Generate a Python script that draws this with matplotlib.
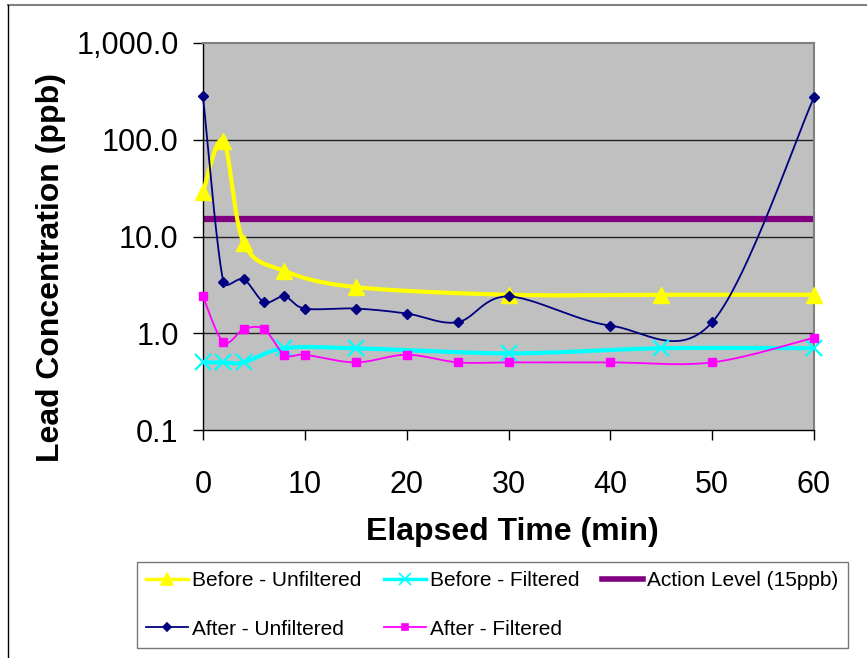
import numpy as np
import matplotlib
matplotlib.use("Agg")
import matplotlib.pyplot as plt
from matplotlib.lines import Line2D
from matplotlib.ticker import FixedLocator, FuncFormatter, NullLocator

# data (minutes, ppb)
before_minutes = [0, 2, 4, 8, 15, 30, 45, 60]
before_unfiltered = [29, 98, 8.6, 4.4, 3.0, 2.5, 2.5, 2.5]
before_filtered = [0.5, 0.5, 0.5, 0.7, 0.7, 0.62, 0.7, 0.7]

after_minutes = [0, 2, 4, 6, 8, 10, 15, 20, 25, 30, 40, 50, 60]
after_unfiltered = [280, 3.4, 3.6, 2.1, 2.4, 1.8, 1.8, 1.6, 1.3, 2.4, 1.2, 1.3, 275]
after_filtered = [2.4, 0.81, 1.1, 1.1, 0.6, 0.6, 0.5, 0.6, 0.5, 0.5, 0.5, 0.5, 0.9]

action_minutes = [0, 60]
action_level = [15, 15]

y_ticks = [0.1, 1, 10, 100, 1000]
x_ticks = [0, 10, 20, 30, 40, 50, 60]

FONT = "Liberation Sans"


def smooth(x, y, sx=10.18, sy=96.7, n=30):
    """Excel-like smoothed line: bezier through the points in screen-ish (x, log y) space."""
    px = np.asarray(x, float) * sx
    py = np.log10(np.asarray(y, float)) * sy
    pts = np.column_stack([px, py])
    ext = np.vstack([pts[0], pts, pts[-1]])
    t = np.linspace(0, 1, n)[:, None]
    out = []
    for i in range(1, len(ext) - 2):
        p0, p1, p2, p3 = ext[i - 1], ext[i], ext[i + 1], ext[i + 2]
        seg_len = np.linalg.norm(p2 - p1)
        # tangents, with the handle length capped at half the segment
        t1 = (p2 - p0) / 6.0
        t2 = (p3 - p1) / 6.0
        for tv in (t1, t2):
            n_t = np.linalg.norm(tv)
            if n_t > seg_len / 2 and n_t > 0:
                tv *= (seg_len / 2) / n_t
        c1 = p1 + t1
        c2 = p2 - t2
        seg = ((1 - t) ** 3) * p1 + 3 * ((1 - t) ** 2) * t * c1 + 3 * (1 - t) * t ** 2 * c2 + t ** 3 * p2
        out.append(seg if i == 1 else seg[1:])
    out = np.vstack(out)
    return out[:, 0] / sx, 10 ** (out[:, 1] / sy)


def main():
    plt.rcParams["font.family"] = [FONT, "DejaVu Sans"]
    fig = plt.figure(figsize=(8.67, 6.58), dpi=100)
    W, H = 867, 658

    # outer chart frame (only top and left edges visible)
    fig.add_artist(Line2D([8 / W, 1], [1 - 5 / H, 1 - 5 / H], transform=fig.transFigure,
                          color="#808080", lw=1.5))
    fig.add_artist(Line2D([8 / W, 8 / W], [0, 1 - 5 / H], transform=fig.transFigure,
                          color="black", lw=1.0))

    ax = fig.add_axes([203 / W, 1 - 430 / H, 611 / W, 387 / H])
    ax.set_facecolor("#C0C0C0")
    ax.set_yscale("log")
    ax.set_ylim(0.1, 1000)
    ax.set_xlim(0, 60)

    for v in [1, 10, 100]:
        ax.axhline(v, color="#222222", lw=1.0, zorder=1)

    series = [
        (before_minutes, before_unfiltered, "#FFFF00", 3.0, "^", 11, "Before - Unfiltered"),
        (after_minutes, after_unfiltered, "#000080", 1.3, "D", 5.5, "After - Unfiltered"),
        (before_minutes, before_filtered, "#00FFFF", 3.0, "x", 11, "Before - Filtered"),
        (after_minutes, after_filtered, "#FF00FF", 1.3, "s", 6, "After - Filtered"),
    ]
    handles = []
    for i, (xs, ys, col, lw, mk, ms, lab) in enumerate(series):
        sx, sy = smooth(xs, ys)
        ax.plot(sx, sy, color=col, lw=lw, zorder=3 + i, solid_capstyle="butt", clip_on=False)
        ax.plot(xs, ys, ls="none", marker=mk, ms=ms, color=col, mec=col,
                mew=1.6 if mk == "x" else 1.0, zorder=3 + i, clip_on=False)
        handles.append(Line2D([], [], color=col, lw=lw if lw < 2 else 2.5, marker=mk,
                              ms=ms * 0.8, mew=1.2, label=lab))

    ax.plot(action_minutes, action_level, color="#800080", lw=4.5, zorder=2,
            solid_capstyle="butt")
    handles.append(Line2D([], [], color="#800080", lw=4, label="Action Level (15ppb)"))

    ax.yaxis.set_major_locator(FixedLocator(y_ticks))
    ax.yaxis.set_minor_locator(NullLocator())
    ax.yaxis.set_major_formatter(FuncFormatter(lambda v, p: f"{v:,.1f}"))
    ax.set_xticks(x_ticks)

    ax.tick_params(axis="y", direction="out", length=7.5, width=1, labelsize=22, pad=10)
    ax.tick_params(axis="x", direction="out", length=7.5, width=1, labelsize=22, pad=21)

    for side in ["top", "right"]:
        ax.spines[side].set_color("#808080")
        ax.spines[side].set_linewidth(1.5)
    for side in ["left", "bottom"]:
        ax.spines[side].set_color("black")
        ax.spines[side].set_linewidth(1.0)

    # axis titles sit where Excel put them, not centred on the plot area
    fig.text(512 / W, 1 - 532 / H, "Elapsed Time (min)", fontsize=23, fontweight="bold",
             ha="center", va="center")
    fig.text(51 / W, 1 - 268 / H, "Lead Concentration (ppb)", fontsize=23, fontweight="bold",
             ha="center", va="center", rotation=90)

    leg = fig.legend(handles=handles, ncol=3, loc="lower left",
                     bbox_to_anchor=(137 / W, 1 - 648 / H, 711 / W, 92 / H),
                     mode="expand", fontsize=15, frameon=True, fancybox=False,
                     edgecolor="#555555", handlelength=2.0, handletextpad=0.2,
                     labelspacing=1.4, borderpad=0.45, columnspacing=1.0,
                     borderaxespad=0)
    leg.get_frame().set_linewidth(1.0)

    fig.savefig("out.png", dpi=100, facecolor="white")


if __name__ == "__main__":
    main()
